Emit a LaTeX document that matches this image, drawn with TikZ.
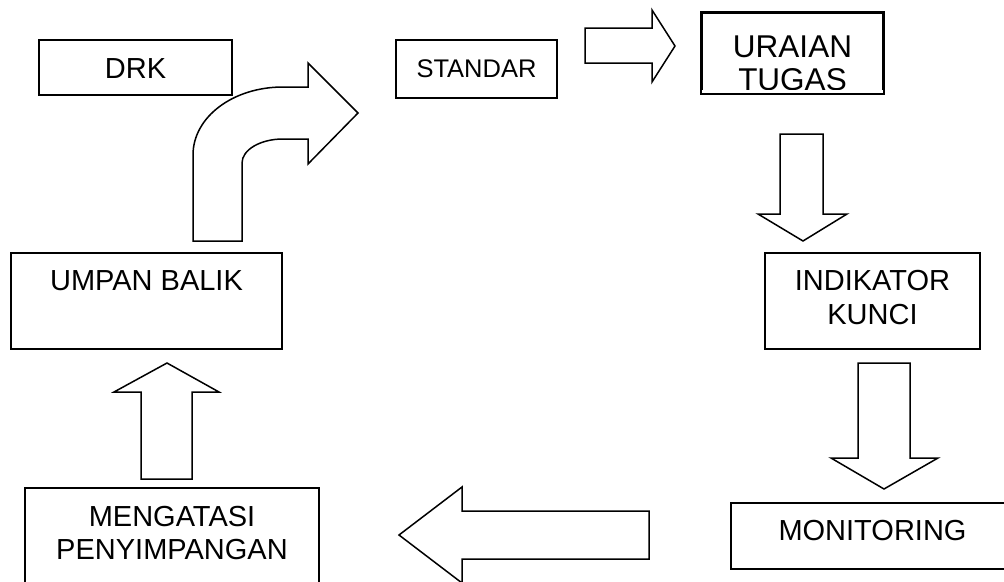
\documentclass[tikz,border=0pt]{standalone}
\usepackage{fontspec}
\setmainfont{Liberation Sans}
\usepackage{tikz}
\tikzset{%
	box/.style = { draw, line width=1.8pt, inner sep=0pt, align=center, anchor=north, font=\fontsize{29}{34}\selectfont },
	blockarrow/.style = { draw, line width=1.5pt, line join=miter }
}

\begin{document}
\begin{tikzpicture}[x=1pt, y=-1pt]
	\useasboundingbox (0,0) rectangle (1004,581);
	\clip (0,0) rectangle (1004,581);

	% kotak atas
	\node[box, minimum width=193pt, text height=39pt, text depth=16pt] (drk) at (135.5,39) {DRK};
	\node[box, minimum width=161pt, text height=38pt, text depth=20pt, font=\fontsize{25.5}{28}\selectfont] (standar) at (476.5,39) {STANDAR};
	% teks TUGAS terpotong di bawah
	\begin{scope}
		\clip (690,0) rectangle (900,89);
		\node[box, minimum width=181pt, text height=78pt, text depth=2pt, font=\fontsize{31.5}{33}\selectfont] (uraian) at (792.5,12) {URAIAN\\TUGAS};
	\end{scope}
	\draw[line width=1.8pt] (uraian.south west) rectangle (uraian.north east);

	% kotak tengah
	\node[box, minimum width=271pt, text height=38pt, text depth=58pt] (umpan) at (146.5,252) {UMPAN BALIK};
	\node[box, minimum width=215pt, text height=72pt, text depth=24pt] (indikator) at (872.5,252) {INDIKATOR\\KUNCI};

	% kotak bawah
	\node[box, minimum width=294pt, text height=72pt, text depth=51pt, font=\fontsize{29}{33}\selectfont] (mengatasi) at (172,487) {MENGATASI\\PENYIMPANGAN};
	\node[box, minimum width=283pt, text height=38pt, text depth=28pt] (monitoring) at (872.5,502) {MONITORING};

	% panah blok
	\draw[blockarrow] (585,28) -- (652,28) -- (652,10) -- (675,46) -- (652,82) -- (652,63) -- (585,63) -- cycle;
	\draw[blockarrow] (780,134) -- (823,134) -- (823,214) -- (847,214) -- (803,241) -- (758,214) -- (780,214) -- cycle;
	\draw[blockarrow] (858,363) -- (910,363) -- (910,458) -- (938,458) -- (884,489) -- (831,458) -- (858,458) -- cycle;
	\draw[blockarrow] (649,511) -- (462,511) -- (462,487) -- (399,535) -- (462,583) -- (462,559) -- (649,559) -- cycle;
	\draw[blockarrow] (141,479) -- (141,392) -- (114,392) -- (167,363) -- (219,392) -- (192,392) -- (192,479) -- cycle;

	% panah melengkung dari umpan balik ke standar
	\draw[blockarrow] (193,241) -- (193,155) .. controls (193,117) and (233,87) .. (283,87)
		-- (308,87) -- (308,63) -- (358,113) -- (308,164) -- (308,139) -- (283,139)
		.. controls (260,139) and (242,150) .. (242,163) -- (242,241) -- cycle;
\end{tikzpicture}
\end{document}
